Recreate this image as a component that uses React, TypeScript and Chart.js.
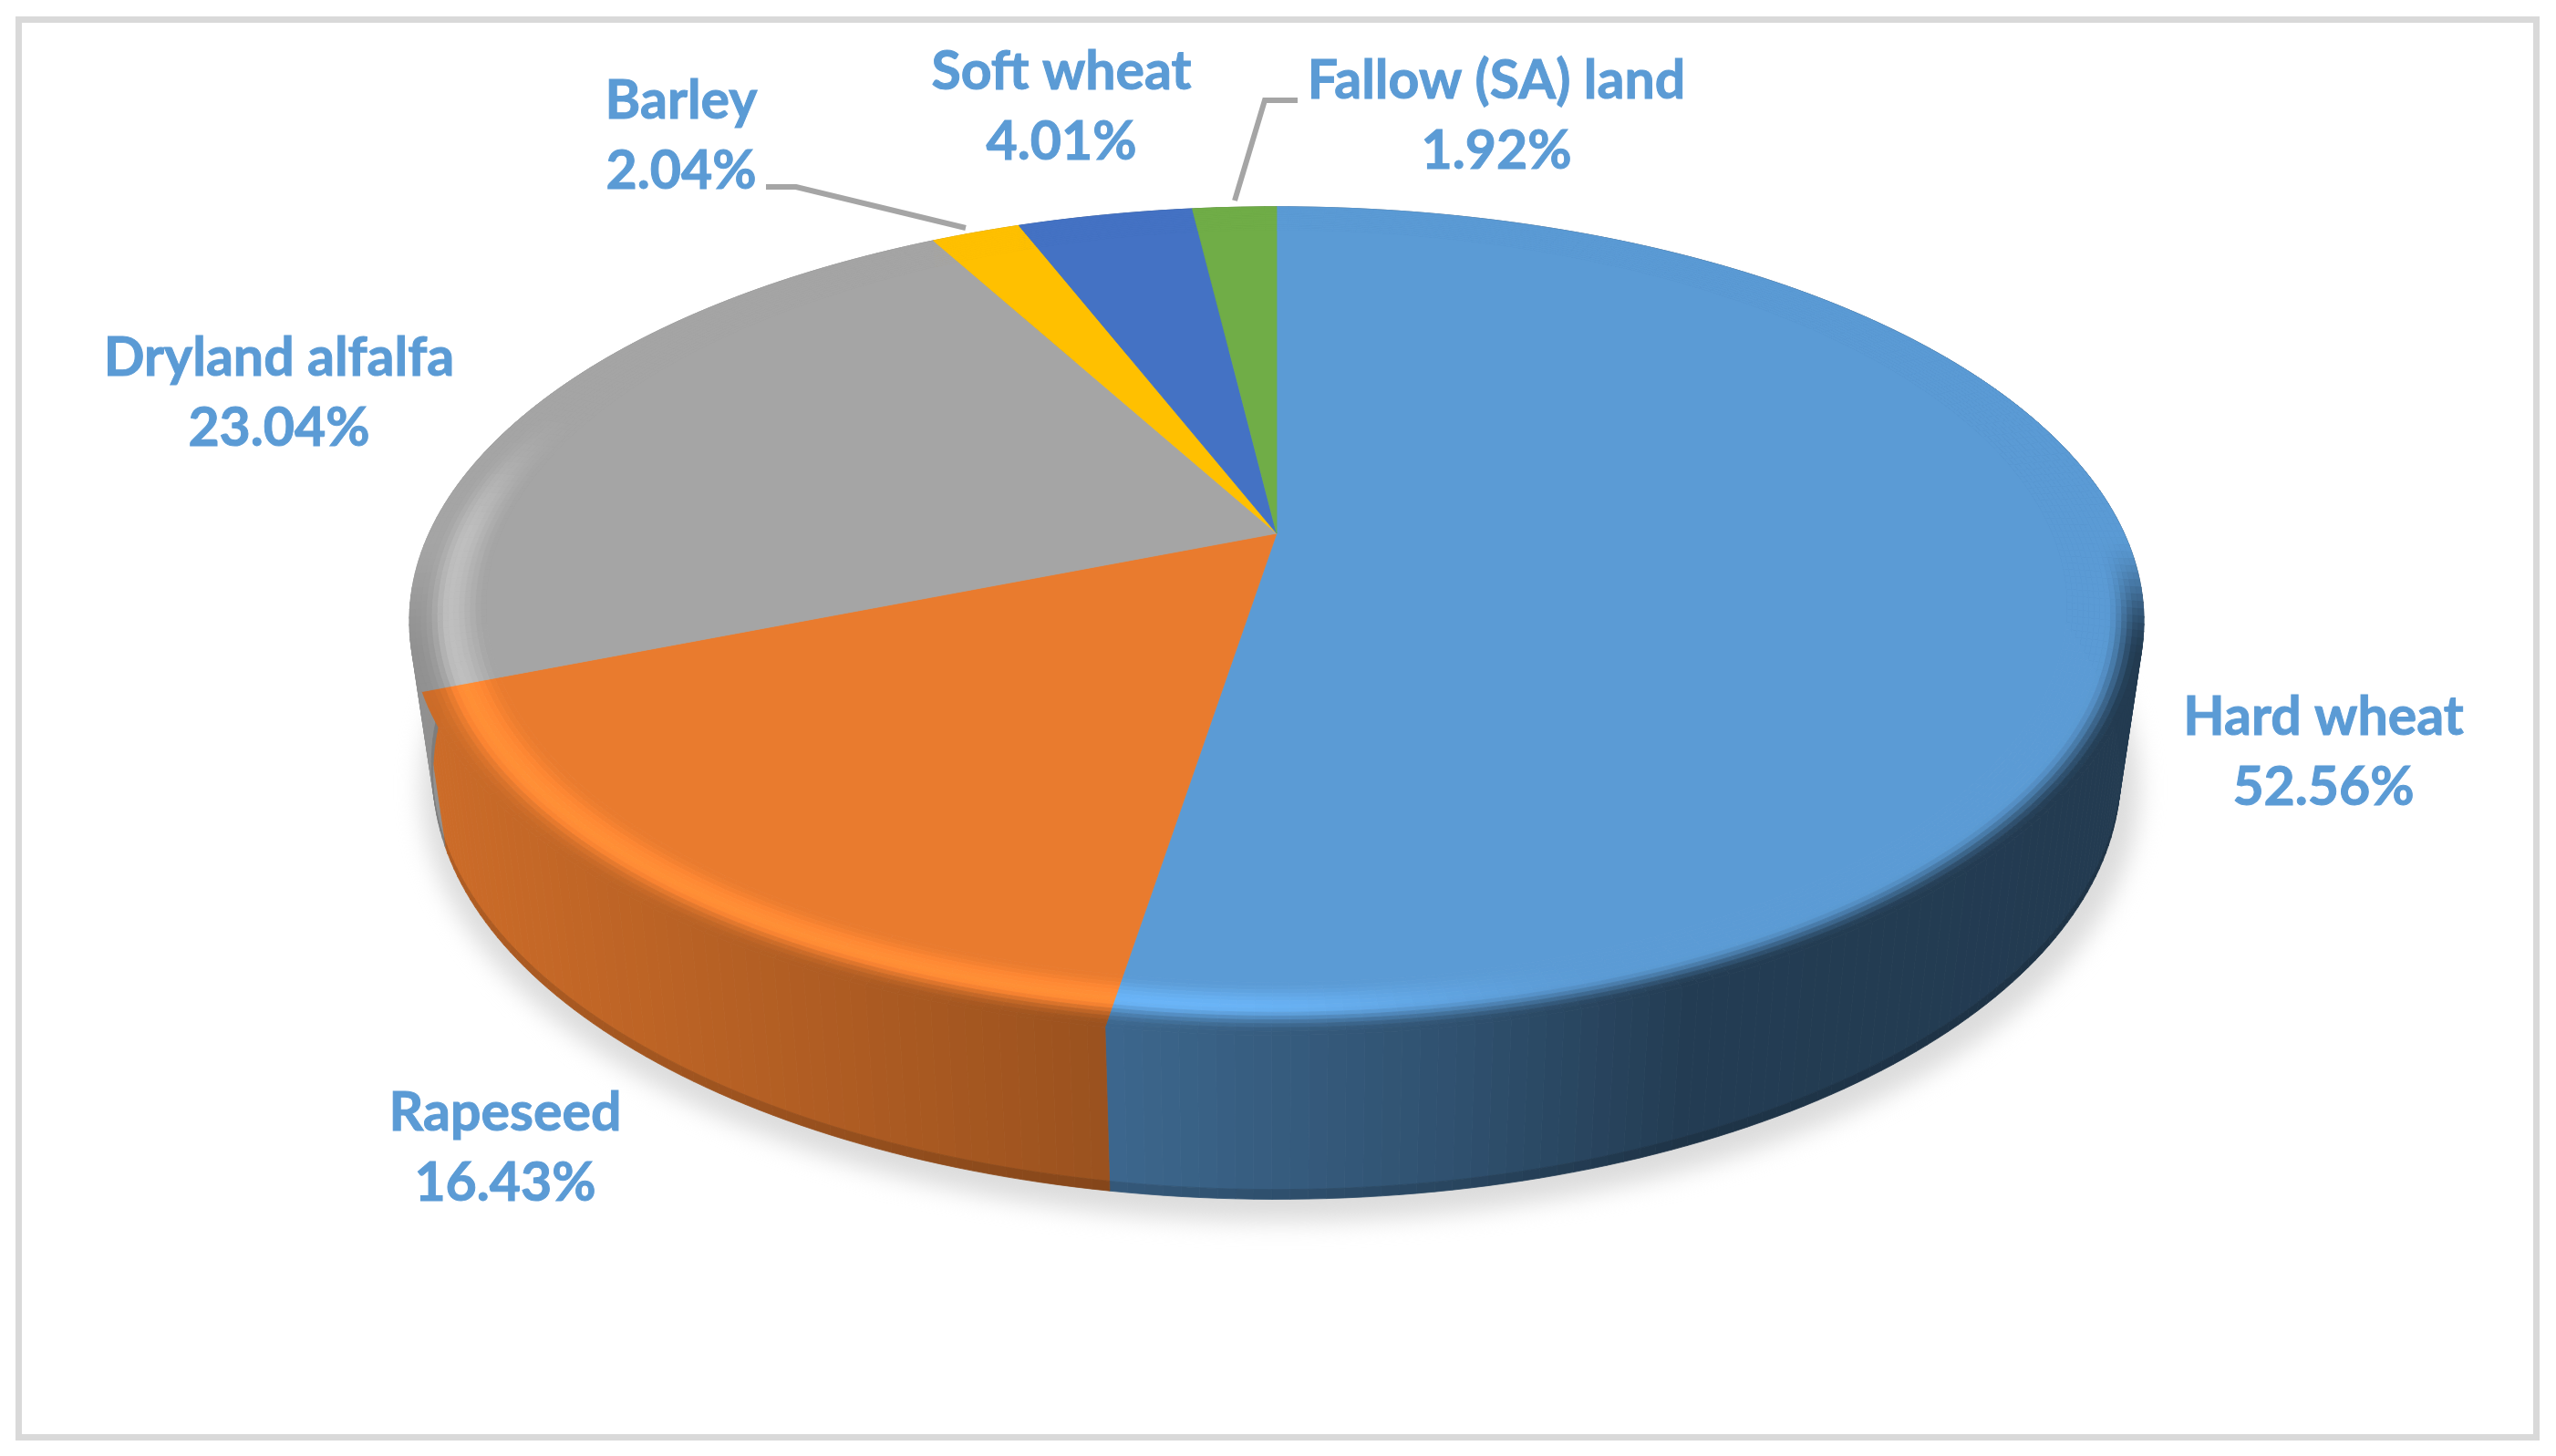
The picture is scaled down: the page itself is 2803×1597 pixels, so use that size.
import React, { useEffect, useRef } from "react";
import { Chart, registerables } from "chart.js";

Chart.register(...registerables);

const categories = ["Hard wheat", "Rapeseed", "Dryland alfalfa", "Barley", "Soft wheat", "Fallow (SA) land"];
const shares = [52.56, 16.43, 23.04, 2.04, 4.01, 1.92];
const sliceColors = ["#5B9BD5", "#E97B2E", "#A5A5A5", "#FFC000", "#4472C4", "#70AD47"];
const labelCentres = [
  [2548, 787],
  [554, 1221],
  [306, 393],
  [747, 111],
  [1164, 79],
  [1641, 89],
];
const leaderLines = [
  null,
  null,
  null,
  [[840, 205], [873, 205], [1059, 250]],
  null,
  [[1423, 110], [1387, 110], [1354, 220]],
];

const W = 2803;
const H = 1597;
const LABEL_FONT = 'bold 59px Lato, "Open Sans", sans-serif';
const LABEL_COLOR = "#5B9BD5";
const LINE_GAP = 77;

// Perspective of the tilted disc
const CX = 1400;
const CY = 585;
const RX = 929.5;
const RY = 434;
const K = 0.2115;

const hex = (c: string) => [1, 3, 5].map((i) => parseInt(c.slice(i, i + 2), 16));
const css = (c: number[]) => `rgb(${c.map((v) => Math.max(0, Math.min(255, Math.round(v)))).join(",")})`;
const mix = (a: number[], b: number[], t: number) => a.map((v, i) => v + (b[i] - v) * t);
const smooth = (a: number, b: number, x: number) => {
  const t = Math.max(0, Math.min(1, (x - a) / (b - a)));
  return t * t * (3 - 2 * t);
};

function project(theta: number, r: number, z = 0) {
  const u = Math.sin(theta) * r;
  const v = -Math.cos(theta) * r;
  const w = 1 - K * v;
  const x = CX + (RX * u) / w;
  const y = CY + (RY * v) / w;
  const xb = CX + (x - CX) * 0.973;
  const yb = 849 + ((y - 681) * 466) / 454;
  return { x: x + (xb - x) * z, y: y + (yb - y) * z };
}

const shadeStops = [
  [450, 0.88],
  [1223, 0.66],
  [1600, 0.52],
  [1850, 0.39],
  [2352, 0.38],
];
function shadeAt(x: number) {
  for (let i = 1; i < shadeStops.length; i++) {
    if (x <= shadeStops[i][0]) {
      const [x0, s0] = shadeStops[i - 1];
      const [x1, s1] = shadeStops[i];
      return s0 + ((s1 - s0) * Math.max(0, x - x0)) / (x1 - x0);
    }
  }
  return 0.38;
}

function quad(ctx: CanvasRenderingContext2D, pts: { x: number; y: number }[], color: string) {
  ctx.beginPath();
  pts.forEach((p, i) => (i ? ctx.lineTo(p.x, p.y) : ctx.moveTo(p.x, p.y)));
  ctx.closePath();
  ctx.fillStyle = color;
  ctx.strokeStyle = color;
  ctx.lineWidth = 0.8;
  ctx.fill();
  ctx.stroke();
}

const disc3d = {
  id: "disc3d",
  beforeDatasetsDraw(chart: any) {
    const ctx: CanvasRenderingContext2D = chart.ctx;
    const arcs = chart.getDatasetMeta(0).data.map((el: any, i: number) => ({
      start: el.startAngle + Math.PI / 2,
      end: el.endAngle + Math.PI / 2,
      base: hex(sliceColors[i]),
    }));
    const STEP = Math.PI / 180;

    ctx.save();
    // cast shadow
    ctx.save();
    ctx.filter = "blur(13px)";
    ctx.fillStyle = "#DCDCDC";
    ctx.beginPath();
    ctx.ellipse(CX + 4, 864, 942, 476, 0, 0, Math.PI * 2);
    ctx.fill();
    ctx.restore();

    // walls
    for (const a of arcs) {
      const n = Math.max(1, Math.ceil((a.end - a.start) / STEP));
      for (let i = 0; i < n; i++) {
        const t0 = a.start + ((a.end - a.start) * i) / n;
        const t1 = a.start + ((a.end - a.start) * (i + 1)) / n;
        const mx = project((t0 + t1) / 2, 1).x;
        const s = shadeAt(mx);
        const col = a.base.map((c: number) => c * s);
        quad(ctx, [project(t0, 1, 0), project(t1, 1, 0), project(t1, 1, 0.94), project(t0, 1, 0.94)], css(col));
        quad(
          ctx,
          [project(t0, 1, 0.94), project(t1, 1, 0.94), project(t1, 1, 1), project(t0, 1, 1)],
          css(col.map((c: number) => c * 0.86))
        );
      }
    }

    // flat top
    const INNER = 0.915;
    for (const a of arcs) {
      const n = Math.max(1, Math.ceil((a.end - a.start) / STEP));
      const pts = [project(0, 0)];
      for (let i = 0; i <= n; i++) pts.push(project(a.start + ((a.end - a.start) * i) / n, INNER));
      quad(ctx, pts, css(a.base));
    }

    // rounded rim
    const BANDS = 14;
    for (const a of arcs) {
      const n = Math.max(1, Math.ceil((a.end - a.start) / STEP));
      for (let i = 0; i < n; i++) {
        const t0 = a.start + ((a.end - a.start) * i) / n;
        const t1 = a.start + ((a.end - a.start) * (i + 1)) / n;
        const tm = (t0 + t1) / 2;
        const v = -Math.cos(tm);
        const mx = project(tm, 1).x;
        const side = a.base.map((c: number) => c * shadeAt(mx));
        const front = smooth(0.0, 0.3, v);
        const hl = (1 - smooth(1300, 1800, mx)) * smooth(-0.35, 0.05, v);
        for (let b = 0; b < BANDS; b++) {
          const r0 = INNER + ((1 - INNER) * b) / BANDS;
          const r1 = INNER + ((1 - INNER) * (b + 1)) / BANDS;
          const rm = (r0 + r1) / 2;
          const peak = rm < 0.955 ? smooth(0.915, 0.955, rm) : 1 - smooth(0.955, 0.985, rm);
          let col = a.base.map((c: number) => c * (1 + 0.16 * hl * peak));
          col = mix(col, side, front * smooth(0.958, 0.996, rm));
          quad(ctx, [project(t0, r0), project(t1, r0), project(t1, r1), project(t0, r1)], css(col));
        }
      }
    }
    ctx.restore();
    return false;
  },
};

const frameAndLabels = {
  id: "frameAndLabels",
  beforeDraw(chart: any) {
    const ctx: CanvasRenderingContext2D = chart.ctx;
    ctx.save();
    ctx.fillStyle = "#FFFFFF";
    ctx.fillRect(0, 0, W, H);
    ctx.strokeStyle = "#D9D9D9";
    ctx.lineWidth = 7;
    ctx.strokeRect(20.5, 21.5, 2761, 1555);
    ctx.restore();
  },
  afterDraw(chart: any) {
    const ctx: CanvasRenderingContext2D = chart.ctx;
    ctx.save();
    ctx.strokeStyle = "#A5A5A5";
    ctx.lineWidth = 6;
    for (const line of leaderLines) {
      if (!line) continue;
      ctx.beginPath();
      line.forEach(([x, y], i) => (i ? ctx.lineTo(x, y) : ctx.moveTo(x, y)));
      ctx.stroke();
    }
    ctx.font = LABEL_FONT;
    ctx.fillStyle = LABEL_COLOR;
    ctx.strokeStyle = LABEL_COLOR;
    ctx.lineWidth = 1;
    ctx.textAlign = "center";
    ctx.textBaseline = "middle";
    categories.forEach((name, i) => {
      const [x, y] = labelCentres[i];
      const pct = `${shares[i].toFixed(2)}%`;
      ctx.fillText(name, x, y);
      ctx.strokeText(name, x, y);
      ctx.fillText(pct, x, y + LINE_GAP);
      ctx.strokeText(pct, x, y + LINE_GAP);
    });
    ctx.restore();
  },
};

export default function App() {
  const ref = useRef<HTMLCanvasElement>(null);
  useEffect(() => {
    document.body.style.margin = "0";
    document.body.style.background = "#FFFFFF";
    const chart = new Chart(ref.current!, {
      type: "pie",
      data: {
        labels: categories,
        datasets: [{ data: shares, backgroundColor: sliceColors, borderWidth: 0 }],
      },
      options: {
        responsive: false,
        animation: false,
        plugins: { legend: { display: false }, tooltip: { enabled: false } },
      },
      plugins: [frameAndLabels, disc3d],
    } as any);
    return () => chart.destroy();
  }, []);
  return <canvas ref={ref} width={W} height={H} style={{ display: "block" }} />;
}
